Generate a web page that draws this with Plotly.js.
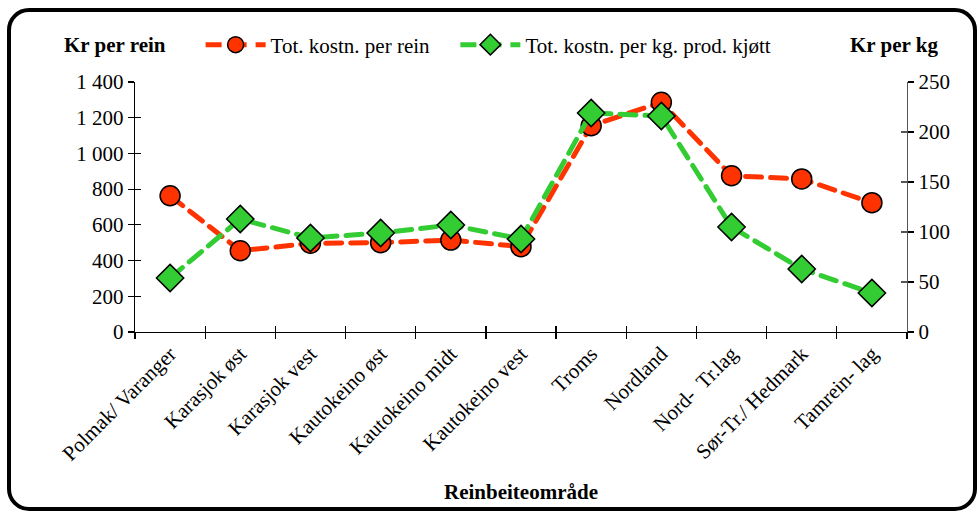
<!DOCTYPE html>
<html>
<head>
<meta charset="utf-8">
<script src="https://cdn.plot.ly/plotly-3.0.1.min.js"></script>
<style>
  html, body { margin:0; padding:0; background:#fff; }
  #wrap { position:relative; width:979px; height:512px; }
  #chart { position:absolute; left:0; top:0; width:979px; height:512px; }
  #frame { position:absolute; left:7px; top:8px; width:970px; height:503px; box-sizing:border-box;
           border:4px solid #000; border-radius:22px; pointer-events:none; }
  .scatterlayer path.js-line { stroke-linecap: round; }
</style>
</head>
<body>
<div id="wrap">
  <div id="chart"></div>
  <div id="frame"></div>
</div>
<script>
const categories = ["Polmak/ Varanger", "Karasjok øst", "Karasjok vest", "Kautokeino øst",
  "Kautokeino midt", "Kautokeino vest", "Troms", "Nordland", "Nord-  Tr.lag",
  "Sør-Tr./ Hedmark", "Tamrein- lag"];
const costPerRein = [763, 455, 497, 500, 515, 478, 1155, 1286, 875, 857, 724];
const costPerKg = [54, 113, 94, 99, 107, 93, 219, 216, 105, 63, 39];
const leftTicks = [0, 200, 400, 600, 800, 1000, 1200, 1400];
const rightTicks = [0, 50, 100, 150, 200, 250];

const FONT = "Liberation Serif, Times New Roman, serif";
const RED = "#ff3300";
const GREEN = "#33cc33";
const catRange = [-0.5, categories.length - 0.5];

const traces = [
  {
    x: categories, y: costPerRein, type: "scatter", mode: "lines+markers",
    name: "Tot. kostn. per rein", yaxis: "y", legend: "legend",
    line: { color: RED, width: 5, dash: "16px,9px" },
    marker: { symbol: "circle", size: 20, color: RED, line: { color: "#000", width: 1.5 } }
  },
  {
    x: categories, y: costPerKg, type: "scatter", mode: "lines+markers",
    name: "Tot. kostn. per kg. prod. kjøtt", yaxis: "y2", legend: "legend2",
    line: { color: GREEN, width: 5, dash: "16px,9px" },
    marker: { symbol: "diamond", size: 21, color: GREEN, line: { color: "#000", width: 1.5 } }
  }
];

const axisCommon = {
  showgrid: false, zeroline: false, showline: true, linecolor: "#000", linewidth: 1.3,
  ticks: "outside", ticklen: 6, tickcolor: "#000", tickwidth: 1.2,
  tickfont: { family: FONT, size: 21, color: "#000" }
};

const legendCommon = {
  orientation: "h", y: 1.148, xanchor: "left", yanchor: "middle",
  font: { family: FONT, size: 21, color: "#000" }, bgcolor: "rgba(0,0,0,0)",
  itemwidth: 60
};

const layout = {
  width: 979, height: 512,
  margin: { l: 135, r: 72, t: 82, b: 180 },
  paper_bgcolor: "#fff", plot_bgcolor: "#fff",
  separators: ", ",
  showlegend: true,
  legend: Object.assign({}, legendCommon, { x: 0.085 }),
  legend2: Object.assign({}, legendCommon, { x: 0.415 }),
  xaxis: Object.assign({}, axisCommon, {
    type: "category", tickson: "boundaries", tickangle: -45, range: catRange,
    categoryorder: "array", categoryarray: categories,
    tickfont: { family: FONT, size: 21, color: "#000" }
  }),
  xaxis2: Object.assign({}, axisCommon, {
    type: "category", tickson: "boundaries", overlaying: "x", range: catRange,
    categoryorder: "array", categoryarray: categories,
    ticks: "inside", showticklabels: false, showline: false
  }),
  yaxis: Object.assign({}, axisCommon, {
    range: [0, 1400], tickvals: leftTicks, separatethousands: true, tickformat: ",d"
  }),
  yaxis2: Object.assign({}, axisCommon, {
    range: [0, 250], tickvals: rightTicks, side: "right", overlaying: "y", linecolor: "#555"
  }),
  yaxis3: Object.assign({}, axisCommon, {
    range: [0, 1400], tickvals: leftTicks, overlaying: "y", anchor: "x", ticks: "inside",
    showticklabels: false, showline: false
  }),
  yaxis4: Object.assign({}, axisCommon, {
    range: [0, 250], tickvals: rightTicks, side: "right", overlaying: "y", anchor: "x", ticks: "inside",
    showticklabels: false, showline: false, tickcolor: "#555"
  }),
  annotations: [
    { text: "<b>Kr per rein</b>", xref: "paper", yref: "paper", x: -0.095, y: 1.148,
      xanchor: "left", yanchor: "middle", showarrow: false,
      font: { family: FONT, size: 21, color: "#000" } },
    { text: "<b>Kr per kg</b>", xref: "paper", yref: "paper", x: 0.983, y: 1.148,
      xanchor: "center", yanchor: "middle", showarrow: false,
      font: { family: FONT, size: 21, color: "#000" } },
    { text: "<b>Reinbeiteområde</b>", xref: "paper", yref: "paper", x: 0.5, y: -0.64,
      xanchor: "center", yanchor: "middle", showarrow: false,
      font: { family: FONT, size: 21, color: "#000" } }
  ]
};

// invisible helper traces activate the inner half of the crossing ticks
const helpers = [
  { x: categories, y: costPerRein, xaxis: "x2", yaxis: "y3", type: "scatter", mode: "markers",
    marker: { opacity: 0 }, showlegend: false, hoverinfo: "skip" },
  { x: categories, y: costPerKg, xaxis: "x", yaxis: "y4", type: "scatter", mode: "markers",
    marker: { opacity: 0 }, showlegend: false, hoverinfo: "skip" }
];

Plotly.newPlot("chart", helpers.concat(traces), layout, { displayModeBar: false, staticPlot: true });
</script>
</body>
</html>
